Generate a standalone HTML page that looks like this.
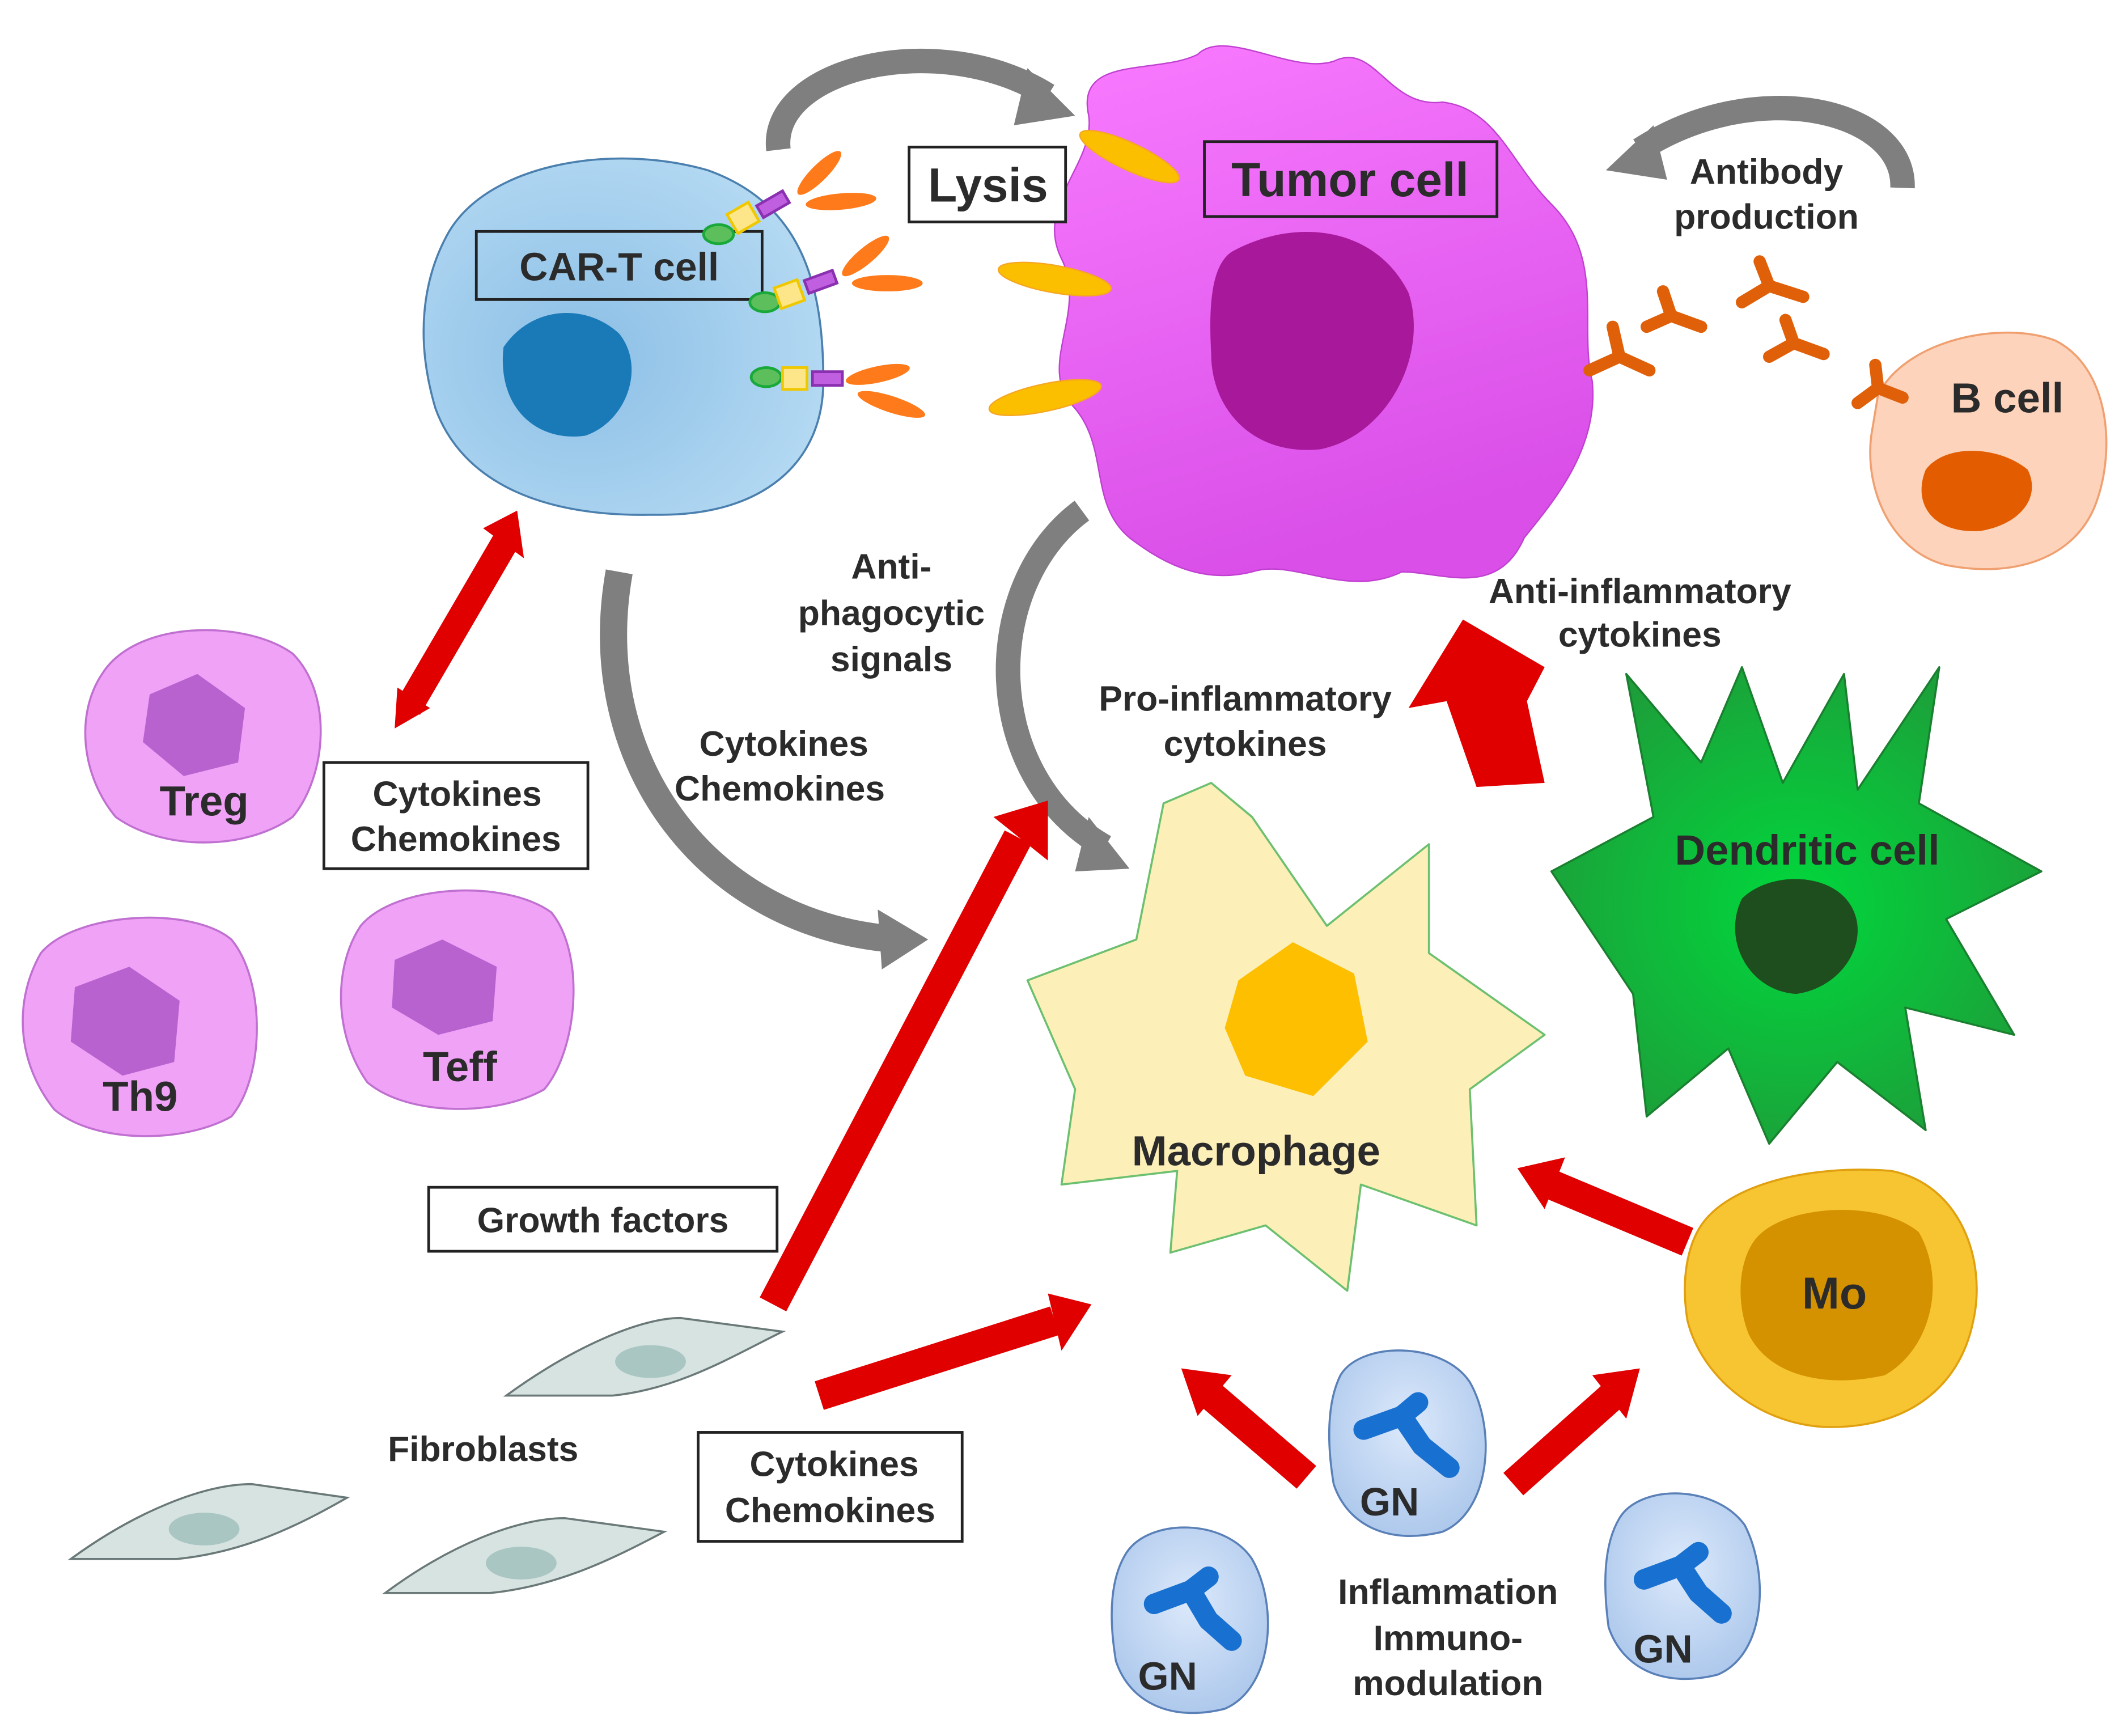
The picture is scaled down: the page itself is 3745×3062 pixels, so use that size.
<!DOCTYPE html>
<html><head><meta charset="utf-8"><style>
html,body{margin:0;padding:0;background:#fff}
svg{display:block}
text{font-family:"Liberation Sans",Arial,sans-serif;font-weight:bold;fill:#2b2b2b}
</style></head><body>
<svg width="3745" height="3062" viewBox="0 0 1560 1275" preserveAspectRatio="none" xmlns="http://www.w3.org/2000/svg">
<defs>
<radialGradient id="gb" cx="0.4" cy="0.55" r="0.7"><stop offset="0" stop-color="#8cbfe6"/><stop offset="1" stop-color="#b8dcf4"/></radialGradient>
<linearGradient id="gm" x1="0" y1="0" x2="0.3" y2="1"><stop offset="0" stop-color="#f97bff"/><stop offset="1" stop-color="#d94fe8"/></linearGradient>
<radialGradient id="gg" cx="0.5" cy="0.5" r="0.6"><stop offset="0" stop-color="#00d83c"/><stop offset="1" stop-color="#1f9a3a"/></radialGradient>
<radialGradient id="gn" cx="0.5" cy="0.4" r="0.7"><stop offset="0" stop-color="#dce9fb"/><stop offset="1" stop-color="#a7c4ea"/></radialGradient>
</defs>

<path d="M572,110 C565,50 690,20 770,70" fill="none" stroke="#7f7f7f" stroke-width="18"/>
<polygon points="755,50 790,85 745,92" fill="#7f7f7f"/>
<path d="M1398,138 C1400,80 1290,55 1205,110" fill="none" stroke="#7f7f7f" stroke-width="18"/>
<polygon points="1215,92 1180,125 1225,132" fill="#7f7f7f"/>
<path d="M455,420 C430,560 520,680 660,690" fill="none" stroke="#7f7f7f" stroke-width="20"/>
<polygon points="645,668 682,690 648,712" fill="#7f7f7f"/>
<path d="M795,375 C720,430 720,570 812,622" fill="none" stroke="#7f7f7f" stroke-width="18"/>
<polygon points="800,600 830,638 790,640" fill="#7f7f7f"/>

<path d="M800,85 C790,40 850,55 880,40 C900,20 950,55 980,45 C1010,30 1020,80 1060,75 C1100,80 1110,120 1140,150 C1180,190 1160,240 1170,280 C1175,330 1140,370 1120,395 C1100,440 1060,420 1030,420 C990,440 950,410 920,420 C880,430 850,410 830,395 C800,370 815,330 790,300 C760,270 800,230 780,190 C760,150 805,120 800,85 Z" fill="url(#gm)" stroke="#c040d0" stroke-width="1"/>
<path d="M905,185 C950,160 1010,165 1035,215 C1050,260 1020,320 970,330 C920,335 890,300 890,260 C888,225 890,195 905,185 Z" fill="#a8189a"/>
<rect x="885" y="104" width="215" height="55" fill="none" stroke="#222" stroke-width="2"/>
<text x="992" y="144" font-size="35" text-anchor="middle">Tumor cell</text>
<ellipse cx="830" cy="115" rx="40" ry="10" transform="rotate(25 830 115)" fill="#fbbf00" stroke="#f5a623"/>
<ellipse cx="775" cy="205" rx="42" ry="10" transform="rotate(10 775 205)" fill="#fbbf00" stroke="#f5a623"/>
<ellipse cx="768" cy="292" rx="42" ry="10" transform="rotate(-12 768 292)" fill="#fbbf00" stroke="#f5a623"/>

<rect x="668" y="108" width="115" height="55" fill="#fff" stroke="#222" stroke-width="2"/>
<text x="726" y="148" font-size="35" text-anchor="middle">Lysis</text>

<path d="M330,170 C360,120 450,105 520,125 C590,150 605,210 605,280 C605,340 560,380 480,378 C400,380 340,355 320,300 C305,250 310,205 330,170 Z" fill="url(#gb)" stroke="#4a7fae" stroke-width="1.5"/>
<path d="M370,255 C390,225 430,222 455,245 C475,270 460,310 430,320 C395,325 365,300 370,255 Z" fill="#1a7ab8"/>
<rect x="350" y="170" width="210" height="50" fill="none" stroke="#222" stroke-width="2"/>
<text x="455" y="206" font-size="29" text-anchor="middle">CAR-T cell</text>
<g stroke-width="2">
<ellipse cx="528" cy="172" rx="11" ry="7" fill="#5cbf5c" stroke="#19a83a"/><rect x="537" y="152" width="18" height="16" fill="#fde58a" stroke="#f0c800" transform="rotate(-30 546 160)"/><rect x="557" y="145" width="22" height="10" fill="#c060e0" stroke="#8a30b0" transform="rotate(-30 568 150)"/>
<ellipse cx="602" cy="127" rx="22" ry="6" transform="rotate(-45 602 127)" fill="#ff7a1a"/><ellipse cx="618" cy="148" rx="26" ry="6" transform="rotate(-5 618 148)" fill="#ff7a1a"/>
<ellipse cx="562" cy="222" rx="11" ry="7" fill="#5cbf5c" stroke="#19a83a"/><rect x="571" y="208" width="18" height="16" fill="#fde58a" stroke="#f0c800" transform="rotate(-20 580 216)"/><rect x="592" y="202" width="22" height="10" fill="#c060e0" stroke="#8a30b0" transform="rotate(-20 603 207)"/>
<ellipse cx="636" cy="188" rx="22" ry="6" transform="rotate(-40 636 188)" fill="#ff7a1a"/><ellipse cx="652" cy="208" rx="26" ry="6" fill="#ff7a1a"/>
<ellipse cx="563" cy="277" rx="11" ry="7" fill="#5cbf5c" stroke="#19a83a"/><rect x="575" y="270" width="18" height="16" fill="#fde58a" stroke="#f0c800"/><rect x="597" y="273" width="22" height="10" fill="#c060e0" stroke="#8a30b0"/>
<ellipse cx="645" cy="275" rx="24" ry="6" transform="rotate(-12 645 275)" fill="#ff7a1a"/><ellipse cx="655" cy="297" rx="26" ry="6" transform="rotate(18 655 297)" fill="#ff7a1a"/>
</g>

<text x="1298" y="135" font-size="26" text-anchor="middle">Antibody</text>
<text x="1298" y="168" font-size="26" text-anchor="middle">production</text>
<path d="M1380,290 C1400,250 1470,235 1510,250 C1550,270 1555,330 1540,370 C1525,410 1480,425 1430,415 C1390,405 1370,360 1375,320 Z" fill="#fdd3bb" stroke="#f0a070" stroke-width="1.5"/>
<path d="M1415,345 C1430,325 1470,328 1490,345 C1500,365 1485,385 1455,390 C1420,392 1405,370 1415,345 Z" fill="#e35d00"/>
<text x="1475" y="303" font-size="31" text-anchor="middle">B cell</text>
<g stroke="#e0600a" stroke-width="9" stroke-linecap="round" fill="none">
<path d="M1168,272 L1190,262 M1190,262 L1185,240 M1190,262 L1212,272"/>
<path d="M1210,240 L1228,232 M1228,232 L1222,214 M1228,232 L1250,240"/>
<path d="M1280,222 L1300,210 M1300,210 L1293,192 M1300,210 L1325,218"/>
<path d="M1300,262 L1318,252 M1318,252 L1312,235 M1318,252 L1340,260"/>
<path d="M1365,296 L1380,285 M1380,285 L1378,268 M1380,285 L1398,292"/>
</g>

<text x="655" y="425" font-size="26" text-anchor="middle">Anti-</text>
<text x="655" y="459" font-size="26" text-anchor="middle">phagocytic</text>
<text x="655" y="493" font-size="26" text-anchor="middle">signals</text>
<text x="1205" y="443" font-size="26" text-anchor="middle">Anti-inflammatory</text>
<text x="1205" y="475" font-size="26" text-anchor="middle">cytokines</text>
<text x="915" y="522" font-size="26" text-anchor="middle">Pro-inflammatory</text>
<text x="915" y="555" font-size="26" text-anchor="middle">cytokines</text>
<text x="576" y="555" font-size="26" text-anchor="middle">Cytokines</text>
<text x="573" y="588" font-size="26" text-anchor="middle">Chemokines</text>

<g fill="#e00000">
<polygon points="1085,578 1135,575 1122,515 1135,490 1075,455 1035,520 1063,515"/>
<line x1="568" y1="958" x2="748" y2="615" stroke="#e00000" stroke-width="22"/>
<polygon points="730,600 770,588 770,632"/>
<line x1="602" y1="1025" x2="775" y2="970" stroke="#e00000" stroke-width="22"/>
<polygon points="770,950 802,958 780,992"/>
<line x1="1240" y1="912" x2="1140" y2="870" stroke="#e00000" stroke-width="22"/>
<polygon points="1150,850 1115,858 1135,888"/>
<line x1="960" y1="1085" x2="890" y2="1025" stroke="#e00000" stroke-width="22"/>
<polygon points="905,1010 868,1005 880,1040"/>
<line x1="1112" y1="1090" x2="1185" y2="1025" stroke="#e00000" stroke-width="22"/>
<polygon points="1170,1010 1205,1005 1195,1042"/>
<line x1="373" y1="395" x2="300" y2="520" stroke="#e00000" stroke-width="20"/>
<polygon points="355,388 380,375 385,410"/>
<polygon points="292,505 290,535 316,520"/>
</g>

<g stroke="#c070d0" stroke-width="1.5">
<path d="M75,495 C100,455 180,455 215,480 C245,510 240,570 215,600 C180,625 120,625 85,600 C60,570 55,525 75,495 Z" fill="#f0a2f7"/>
<path d="M30,700 C55,670 140,665 170,690 C195,720 195,790 170,820 C135,840 70,840 40,815 C12,780 10,735 30,700 Z" fill="#f0a2f7"/>
<path d="M265,680 C290,650 370,645 405,670 C430,700 425,770 400,800 C365,820 300,820 270,795 C245,760 245,710 265,680 Z" fill="#f0a2f7"/>
</g>
<g fill="#b862d0">
<path d="M110,510 L145,495 L180,520 L175,560 L135,570 L105,545 Z"/>
<path d="M55,725 L95,710 L132,735 L128,780 L90,790 L52,765 Z"/>
<path d="M290,705 L325,690 L365,710 L362,750 L322,760 L288,740 Z"/>
</g>
<text x="150" y="599" font-size="31" text-anchor="middle">Treg</text>
<text x="103" y="816" font-size="31" text-anchor="middle">Th9</text>
<text x="338" y="794" font-size="31" text-anchor="middle">Teff</text>
<rect x="238" y="560" width="194" height="78" fill="#fff" stroke="#222" stroke-width="2"/>
<text x="336" y="592" font-size="26" text-anchor="middle">Cytokines</text>
<text x="335" y="625" font-size="26" text-anchor="middle">Chemokines</text>

<polygon points="1195,495 1250,560 1280,490 1310,575 1355,495 1365,580 1425,490 1410,590 1500,640 1430,675 1480,760 1400,740 1415,830 1350,780 1300,840 1270,770 1210,820 1200,730 1140,640 1215,600" fill="url(#gg)" stroke="#1a8030" stroke-width="1.5" stroke-linejoin="round"/>
<path d="M1280,660 C1300,640 1345,640 1360,665 C1375,690 1355,725 1320,730 C1285,728 1265,690 1280,660 Z" fill="#1e4e1e"/>
<text x="1328" y="635" font-size="31" text-anchor="middle">Dendritic cell</text>

<polygon points="855,590 890,575 920,600 975,680 1050,620 1050,700 1135,760 1080,800 1085,900 1000,870 990,948 930,900 860,920 865,860 780,870 790,800 755,720 835,690 845,640" fill="#fcefb8" stroke="#6cc070" stroke-width="1.5" stroke-linejoin="round"/>
<path d="M910,720 L950,692 L995,715 L1005,765 L965,805 L915,790 L900,755 Z" fill="#fdbf00"/>
<text x="923" y="856" font-size="31" text-anchor="middle">Macrophage</text>

<path d="M1250,900 C1270,870 1330,855 1390,860 C1440,870 1460,925 1450,970 C1440,1020 1400,1050 1340,1048 C1290,1045 1250,1010 1240,970 C1235,940 1240,915 1250,900 Z" fill="#f7c531" stroke="#e0a010" stroke-width="1.5"/>
<path d="M1290,910 C1310,885 1380,880 1410,905 C1430,940 1420,990 1385,1010 C1340,1020 1300,1010 1285,980 C1275,955 1278,925 1290,910 Z" fill="#d49100"/>
<text x="1348" y="961" font-size="33" text-anchor="middle">Mo</text>

<g stroke="#5a80b8" stroke-width="1.5" fill="url(#gn)">
<path d="M985,1010 C1000,985 1060,985 1080,1015 C1100,1050 1095,1110 1060,1125 C1020,1135 990,1120 980,1090 C975,1060 975,1030 985,1010 Z"/>
<path d="M828,1140 C845,1115 900,1115 920,1145 C940,1180 935,1240 900,1255 C860,1265 830,1250 820,1220 C815,1190 815,1160 828,1140 Z"/>
<path d="M1190,1115 C1205,1090 1260,1090 1282,1120 C1300,1155 1298,1215 1262,1230 C1222,1240 1192,1225 1182,1195 C1178,1165 1178,1135 1190,1115 Z"/>
</g>
<g stroke="#1870d0" stroke-width="15" stroke-linecap="round" stroke-linejoin="round" fill="none">
<path d="M1002,1050 L1030,1040 L1042,1030 M1030,1040 L1045,1062 L1065,1078"/>
<path d="M848,1178 L875,1168 L888,1158 M875,1168 L888,1190 L905,1205"/>
<path d="M1208,1160 L1235,1150 L1248,1140 M1235,1150 L1248,1170 L1265,1185"/>
</g>
<text x="1021" y="1113" font-size="29" text-anchor="middle">GN</text>
<text x="858" y="1241" font-size="29" text-anchor="middle">GN</text>
<text x="1222" y="1221" font-size="29" text-anchor="middle">GN</text>
<text x="1064" y="1178" font-size="26" text-anchor="middle">Inflammation</text>
<text x="1064" y="1212" font-size="26" text-anchor="middle">Immuno-</text>
<text x="1064" y="1245" font-size="26" text-anchor="middle">modulation</text>

<g fill="#d6e3e0" stroke="#6a7878" stroke-width="1.5">
<path d="M372,1025 C420,990 470,968 500,968 L575,978 C540,995 500,1020 450,1025 Z"/>
<path d="M52,1145 C100,1110 150,1090 185,1090 L255,1100 C220,1120 180,1140 130,1145 Z"/>
<path d="M283,1170 C330,1135 380,1115 415,1115 L488,1125 C450,1145 410,1165 360,1170 Z"/>
</g>
<g fill="#a9c6c2"><ellipse cx="478" cy="1000" rx="26" ry="12"/><ellipse cx="150" cy="1123" rx="26" ry="12"/><ellipse cx="383" cy="1148" rx="26" ry="12"/></g>
<text x="355" y="1073" font-size="26" text-anchor="middle">Fibroblasts</text>
<rect x="315" y="872" width="256" height="47" fill="#fff" stroke="#222" stroke-width="2"/>
<text x="443" y="905" font-size="26" text-anchor="middle">Growth factors</text>
<rect x="513" y="1052" width="194" height="80" fill="#fff" stroke="#222" stroke-width="2"/>
<text x="613" y="1084" font-size="26" text-anchor="middle">Cytokines</text>
<text x="610" y="1118" font-size="26" text-anchor="middle">Chemokines</text>
</svg>
</body></html>
